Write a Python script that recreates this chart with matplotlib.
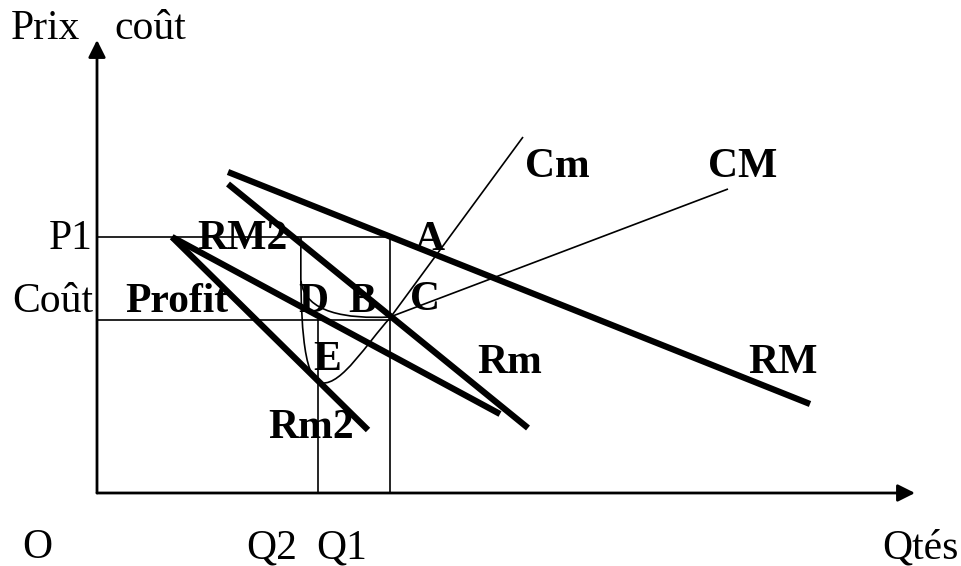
import matplotlib
matplotlib.use("Agg")
import matplotlib.pyplot as plt
from matplotlib.path import Path
from matplotlib.patches import PathPatch

# ---- diagram values (quantity on x, price/cost on y) ----
x_max, y_max = 818, 453
P1, COUT = 256, 173
Q2, Q1 = 221, 293

RM_x, RM_y = [131, 713], [321, 89]
RM2_x, RM2_y = [131, 431], [309, 65]
Rm_x, Rm_y = [75, 403], [256, 79]
Rm2_x, Rm2_y = [75, 271], [256, 63]

# Cm curve (bezier control points) and CM curve
Cm_pts = [(204, 256), (203, 180), (205, 112), (225, 110),
          (245, 108), (270, 150), (293, 175), (426, 356)]
Cm_codes = [Path.MOVETO, Path.CURVE4, Path.CURVE4, Path.CURVE4,
            Path.CURVE4, Path.CURVE4, Path.CURVE4, Path.LINETO]
CM_pts = [(204, 212), (208, 180), (250, 174), (293, 176), (631, 304)]
CM_codes = [Path.MOVETO, Path.CURVE4, Path.CURVE4, Path.CURVE4, Path.LINETO]

fig = plt.figure(figsize=(9.61, 5.66), dpi=100)
ax = fig.add_axes([0, 0, 1, 1])
ax.set_xlim(-97, 864)
ax.set_ylim(-73, 493)
ax.axis("off")

serif = ["Liberation Serif", "DejaVu Serif"]
FS = 30

# axes with arrows
ax.annotate("", xy=(0, y_max), xytext=(0, 0),
            arrowprops=dict(arrowstyle="-|>", lw=2, color="black",
                            mutation_scale=26, shrinkA=0, shrinkB=0))
ax.annotate("", xy=(x_max, 0), xytext=(0, 0),
            arrowprops=dict(arrowstyle="-|>", lw=2, color="black",
                            mutation_scale=26, shrinkA=0, shrinkB=0))

# guide lines
ax.plot([0, Q1], [P1, P1], color="black", lw=1.2)
ax.plot([0, Q1], [COUT, COUT], color="black", lw=1.2)
ax.plot([Q1, Q1], [0, P1], color="black", lw=1.2)
ax.plot([Q2, Q2], [0, COUT], color="black", lw=1.2)

# thick revenue lines
for xs, ys in [(RM_x, RM_y), (RM2_x, RM2_y), (Rm_x, Rm_y), (Rm2_x, Rm2_y)]:
    ax.plot(xs, ys, color="black", lw=4.5, solid_capstyle="butt")

# cost curves
ax.add_patch(PathPatch(Path(Cm_pts, Cm_codes), fill=False, lw=1.2, color="black"))
ax.add_patch(PathPatch(Path(CM_pts, CM_codes), fill=False, lw=1.2, color="black"))

def t(x, y, s, bold=False, ha="left"):
    ax.text(x, y, s, family=serif, fontsize=FS, ha=ha, va="center",
            fontweight="bold" if bold else "normal", color="black")

t(-86, 464, "Prix")
t(17, 464, "coût")
t(-4, P1 - 2, "P1", ha="right")
t(-4, 191, "Coût", ha="right")
t(28, 191, "Profit", bold=True)
t(100, P1 - 2, "RM2", bold=True)
t(201, 191, "D", bold=True)
t(251, 191, "B", bold=True)
t(313, 193, "C", bold=True)
t(318, 253, "A", bold=True)
t(216, 133, "E", bold=True)
t(428, 326, "Cm", bold=True)
t(611, 326, "CM", bold=True)
t(380, 130, "Rm", bold=True)
t(651, 130, "RM", bold=True)
t(171, 65, "Rm2", bold=True)
t(-75, -55, "O")
t(149, -55, "Q2")
t(219, -55, "Q1")
t(785, -55, "Qtés")

fig.savefig("out.png", dpi=100, facecolor="white")
